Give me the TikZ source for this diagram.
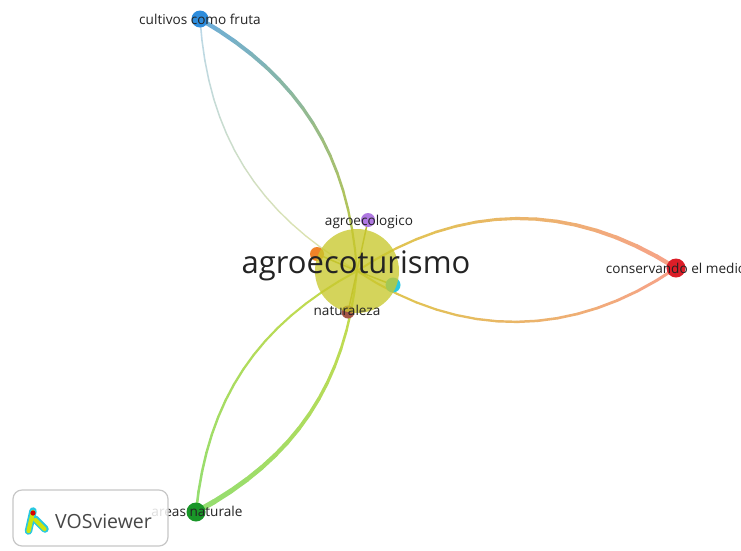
\documentclass[tikz,border=0pt]{standalone}
\usepackage{fontspec}
\setmainfont{Open Sans}
\usetikzlibrary{backgrounds}
\definecolor{txt}{RGB}{35,35,35}
\definecolor{cblue}{RGB}{45,140,220}
\definecolor{cred}{RGB}{220,30,40}
\definecolor{cgreen}{RGB}{25,150,40}
\definecolor{cpurple}{RGB}{175,120,225}
\definecolor{corange}{RGB}{240,130,40}
\definecolor{ccyan}{RGB}{40,200,225}
\definecolor{cbrown}{RGB}{165,85,70}
\definecolor{cyel}{RGB}{200,200,45}
\definecolor{eblueA}{RGB}{105,172,225}
\definecolor{eblueB}{RGB}{190,200,65}
\definecolor{ethinA}{RGB}{185,215,235}
\definecolor{ethinB}{RGB}{225,228,165}
\definecolor{eredA}{RGB}{248,160,140}
\definecolor{eredB}{RGB}{222,200,75}
\definecolor{egrnA}{RGB}{145,222,115}
\definecolor{egrnB}{RGB}{200,218,75}
\definecolor{einner}{RGB}{185,185,45}
\newcommand\gedge[8]{%
  \foreach \k in {0,...,16}{\path (#1) to[bend #3=#4] coordinate[pos=\k/16] (q\k) (#2);}
  \foreach \k [evaluate=\k as \j using int(\k-1),
               evaluate=\k as \p using int(100-\k*100/16),
               evaluate=\k as \w using (#7*(16-\k)+#8*\k)/16] in {1,...,16}{%
    \draw[line width=\w pt, color=#5!\p!#6, line cap=round] (q\j) -- (q\k);}%
}
\begin{document}
\begin{tikzpicture}[x=1pt,y=-1pt,
  dot/.style={circle, inner sep=0pt, minimum size=#1},
  lbl/.style={text=txt, font=\fontsize{13.6}{13.6}\selectfont, inner sep=0pt}]
\useasboundingbox (0,0) rectangle (741,550);
% small nodes
\node[dot=14pt, fill=cpurple] (ag) at (368,220) {};
\node[dot=14pt, fill=corange] (or) at (317,254) {};
\node[dot=15pt, fill=ccyan] (cy) at (393,285) {};
\node[dot=13pt, fill=cbrown] (na) at (348,312) {};
\node[dot=17pt, fill=cblue] (cf) at (200,19) {};
\node[dot=19pt, fill=cred] (cm) at (676,268) {};
\node[dot=19pt, fill=cgreen] (an) at (196,512) {};
% big node
\node[dot=84pt, fill=cyel, fill opacity=0.78] (c) at (357,271) {};
% edges
\begin{pgfonlayer}{background}
  \fill[white] (0,0) rectangle (741,550);
  \gedge{cf.center}{c.center}{left}{28}{eblueA}{eblueB}{4.5}{2}
  \gedge{cf.center}{c.center}{right}{28}{ethinA}{ethinB}{1.6}{1.3}
  \gedge{cm.center}{c.center}{right}{33}{eredA}{eredB}{4.5}{2}
  \gedge{cm.center}{c.center}{left}{34}{eredA}{eredB}{3}{2}
  \gedge{an.center}{c.center}{left}{28}{egrnA}{egrnB}{2.6}{2}
  \gedge{an.center}{c.center}{right}{28}{egrnA}{egrnB}{5.5}{2}
  \draw[einner, line width=1.5pt] (ag.center) -- (c.center) (or.center) -- (c.center)
     (cy.center) -- (c.center) (na.center) -- (c.center);
\end{pgfonlayer}
% labels
\node[lbl] (tcf) at (200,19) {cultivos como fruta};
\node[lbl] (tcm) at (676,268) {conservando el medio};
\node[lbl] (tan) at (197,511) {areas naturale};
\node[lbl] (tag) at (369,222) {agroecologico};
\node[lbl] (tna) at (347,310) {naturaleza};
\node[text=txt, font=\fontsize{31}{31}\selectfont, inner sep=0pt] (tc) at (356,266) {agroecoturismo};
% logo
\node[draw=black!22, line width=1.2pt, fill=white, fill opacity=0.85, text opacity=1,
      rounded corners=9pt, minimum width=155pt, minimum height=56pt, inner sep=0pt] (logo) at (90.5,518) {};
\draw[ccyan, line width=7.5pt, line cap=round] (33,511) -- (28.5,531) (35,519) -- (45,529);
\draw[yellow!80!green, line width=4.2pt, line cap=round] (33,512) -- (28.5,531) (35.5,520) -- (44.5,529);
\fill[red!85!black] (33,513) circle (2.6pt);
\node[text=black!72, font=\fontsize{19.5}{19.5}\selectfont, anchor=west, inner sep=0pt] (vos) at (55,521) {VOSviewer};
\end{tikzpicture}
\end{document}
